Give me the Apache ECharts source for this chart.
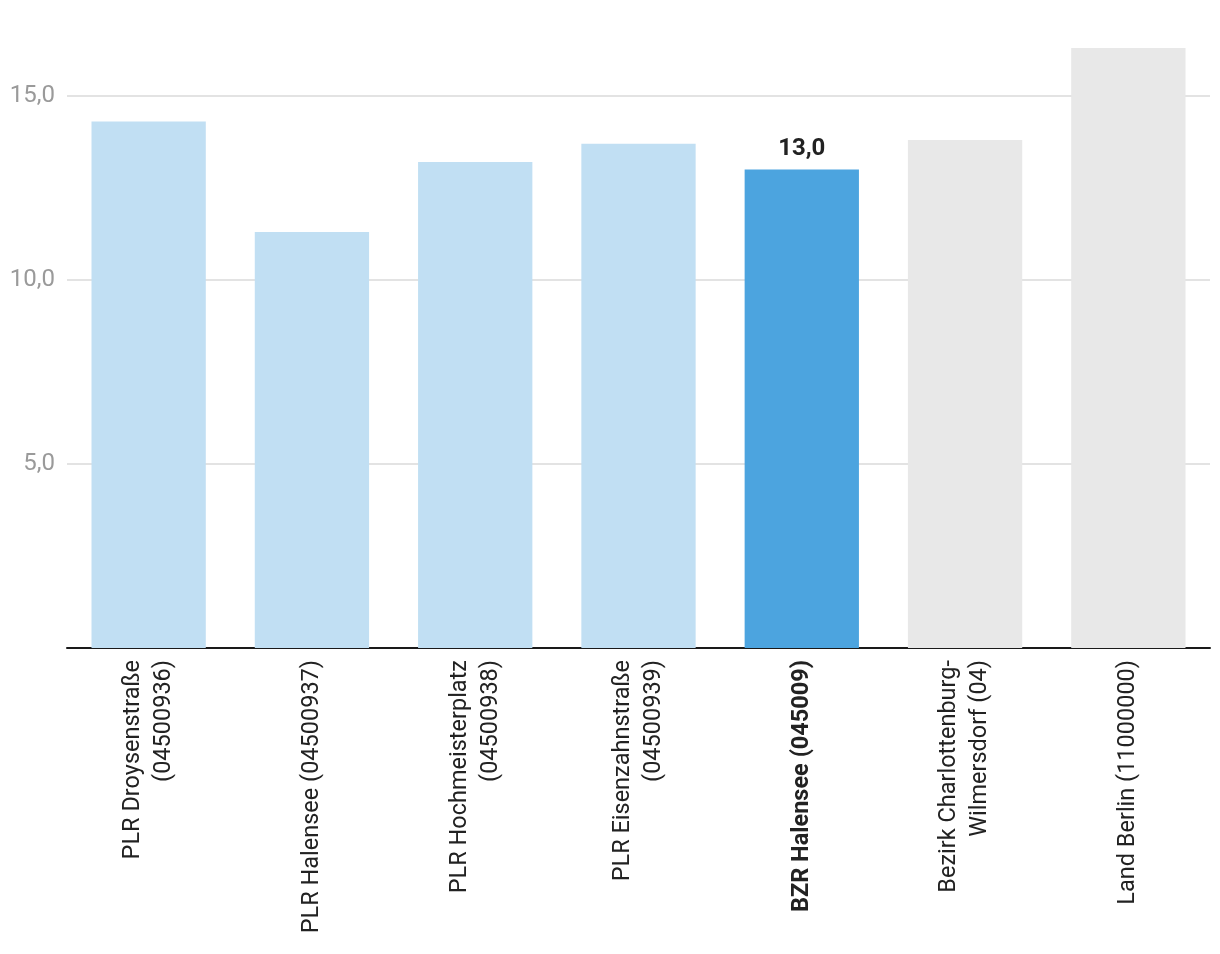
<!DOCTYPE html>
<html>
<head>
<meta charset="utf-8">
<script src="https://cdn.jsdelivr.net/npm/echarts@6/dist/echarts.min.js"></script>
<style>
html,body{margin:0;padding:0;background:#fff;}
#chart{width:1220px;height:954px;}
</style>
</head>
<body>
<div id="chart"></div>
<script>
const categories = [
  "PLR Droysenstraße\n(04500936)",
  "PLR Halensee (04500937)",
  "PLR Hochmeisterplatz\n(04500938)",
  "PLR Eisenzahnstraße\n(04500939)",
  "BZR Halensee (045009)",
  "Bezirk Charlottenburg-\nWilmersdorf (04)",
  "Land Berlin (11000000)"
];
const values = [14.3, 11.3, 13.2, 13.7, 13.0, 13.8, 16.3];
const barKinds = ["plr", "plr", "plr", "plr", "bzr", "ref", "ref"];
const yTicks = [5, 10, 15];

const kindColor = { plr: "#c1dff3", bzr: "#4ca4df", ref: "#e8e8e8" };
const fmt = v => v.toFixed(1).replace(".", ",");

const chart = echarts.init(document.getElementById("chart"));
chart.setOption({
  animation: false,
  backgroundColor: "#ffffff",
  textStyle: { fontFamily: "Roboto" },
  grid: { left: 67, right: 10, top: 48, bottom: 306, containLabel: false },
  xAxis: {
    type: "category",
    data: categories,
    axisLine: { show: true, lineStyle: { color: "#1a1a1a", width: 2 } },
    axisTick: { show: false },
    axisLabel: {
      rotate: 90,
      interval: 0,
      margin: 12,
      fontSize: 23.5,
      lineHeight: 31,
      color: "#222222",
      fontFamily: "Roboto",
      formatter: (v, i) => barKinds[i] === "bzr" ? "{b|" + v + "}" : v,
      rich: { b: { fontWeight: "bold", fontSize: 23.5, color: "#222222", fontFamily: "Roboto" } }
    }
  },
  yAxis: {
    type: "value",
    min: 0,
    max: 16.3,
    interval: 5,
    axisLine: { show: false },
    axisTick: { show: false },
    splitLine: { show: true, showMinLine: false, showMaxLine: false, lineStyle: { color: "#e3e3e3", width: 2 } },
    axisLabel: {
      margin: 12,
      fontSize: 24,
      color: "#9a9a9a",
      fontFamily: "Roboto",
      showMinLabel: false,
      showMaxLabel: false,
      formatter: v => yTicks.includes(v) ? fmt(v) : ""
    }
  },
  series: [{
    type: "bar",
    barWidth: "70%",
    data: values.map((v, i) => ({
      value: v,
      itemStyle: { color: kindColor[barKinds[i]] },
      label: {
        show: barKinds[i] === "bzr",
        position: "top",
        distance: 8,
        formatter: p => fmt(p.value),
        fontSize: 24,
        fontWeight: "bold",
        color: "#222222",
        fontFamily: "Roboto"
      }
    }))
  }]
});
</script>
</body>
</html>
